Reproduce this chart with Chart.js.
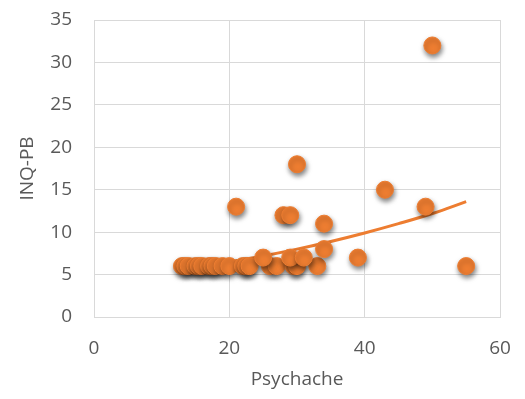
<!DOCTYPE html>
<html>
<head>
<meta charset="utf-8">
<script src="https://cdn.jsdelivr.net/npm/chart.js@4/dist/chart.umd.min.js"></script>
<style>
  html, body { margin: 0; padding: 0; background: #ffffff; }
  #wrap { width: 525px; height: 399px; position: relative; }
</style>
</head>
<body>
<div id="wrap"><canvas id="c" width="525" height="399"></canvas></div>
<script>
// Psychache (x) and INQ-PB (y) values
const psychache = [13, 13.5, 14, 15, 15.5, 16, 17, 17.5, 18, 19, 20, 22, 22.5, 23, 26, 27, 29.5, 30, 33, 55,
                   25, 29, 31, 39, 34, 34, 28, 29, 21, 49, 43, 30, 50];
const inqpb     = [6, 6, 6, 6, 6, 6, 6, 6, 6, 6, 6, 6, 6, 6, 6, 6, 6, 6, 6, 6,
                   7, 7, 7, 7, 8, 11, 12, 12, 13, 13, 15, 18, 32];
// Trendline
const trendX = [13, 20, 25, 30, 35, 40, 45, 50, 55];
const trendY = [5.6, 6.5, 7.2, 8.0, 8.9, 9.9, 11.0, 12.2, 13.6];
const xTicks = [0, 20, 40, 60];
const yTicks = [0, 5, 10, 15, 20, 25, 30, 35];

const orange = '#ED7D31';
const txt = '#595959';
const grid = '#d9d9d9';
const fontFam = "'Open Sans', 'Liberation Sans', sans-serif";

const shadowPlugin = {
  id: 'pointShadow',
  beforeDatasetDraw(chart, args) {
    if (args.index === 1) {
      const ctx = chart.ctx;
      ctx.save();
      ctx.shadowColor = 'rgba(0,0,0,0.5)';
      ctx.shadowBlur = 5;
      ctx.shadowOffsetX = 1;
      ctx.shadowOffsetY = 3;
    }
  },
  afterDatasetDraw(chart, args) {
    if (args.index === 1) chart.ctx.restore();
  }
};

new Chart(document.getElementById('c'), {
  type: 'scatter',
  data: {
    datasets: [
      {
        type: 'line',
        data: trendX.map((x, i) => ({ x: x, y: trendY[i] })),
        borderColor: orange,
        borderWidth: 3,
        pointRadius: 0,
        tension: 0.4,
        fill: false,
        order: 1
      },
      {
        data: psychache.map((x, i) => ({ x: x, y: inqpb[i] })),
        backgroundColor: orange,
        borderColor: orange,
        borderWidth: 1,
        pointRadius: 8.5,
        pointHoverRadius: 8.5,
        order: 0
      }
    ]
  },
  plugins: [shadowPlugin],
  options: {
    responsive: false,
    animation: false,
    events: [],
    layout: { padding: { top: 20, right: 25, left: 16, bottom: 8 } },
    plugins: { legend: { display: false }, tooltip: { enabled: false } },
    scales: {
      x: {
        type: 'linear',
        min: 0, max: 60,
        afterBuildTicks: (s) => { s.ticks = xTicks.map(v => ({ value: v })); },
        afterFit: (s) => { s.height = 74; s.paddingLeft = 0; s.paddingRight = 0; },
        grid: { color: grid, lineWidth: 1, drawTicks: false },
        border: { color: grid },
        ticks: { color: txt, padding: 20, font: { family: fontFam, size: 19 } },
        title: { display: true, text: 'Psychache', color: txt, padding: { top: 1, bottom: 0 }, font: { family: fontFam, size: 19 } }
      },
      y: {
        type: 'linear',
        min: 0, max: 35,
        afterBuildTicks: (s) => { s.ticks = yTicks.map(v => ({ value: v })); },
        afterFit: (s) => { s.width = 78; s.paddingTop = 0; s.paddingBottom = 0; },
        grid: { color: grid, lineWidth: 1, drawTicks: false },
        border: { color: grid },
        ticks: { color: txt, padding: 22, font: { family: fontFam, size: 19 } },
        title: { display: true, text: 'INQ-PB', color: txt, padding: { top: 0, bottom: 4 }, font: { family: fontFam, size: 19 } }
      }
    }
  }
});
</script>
</body>
</html>
